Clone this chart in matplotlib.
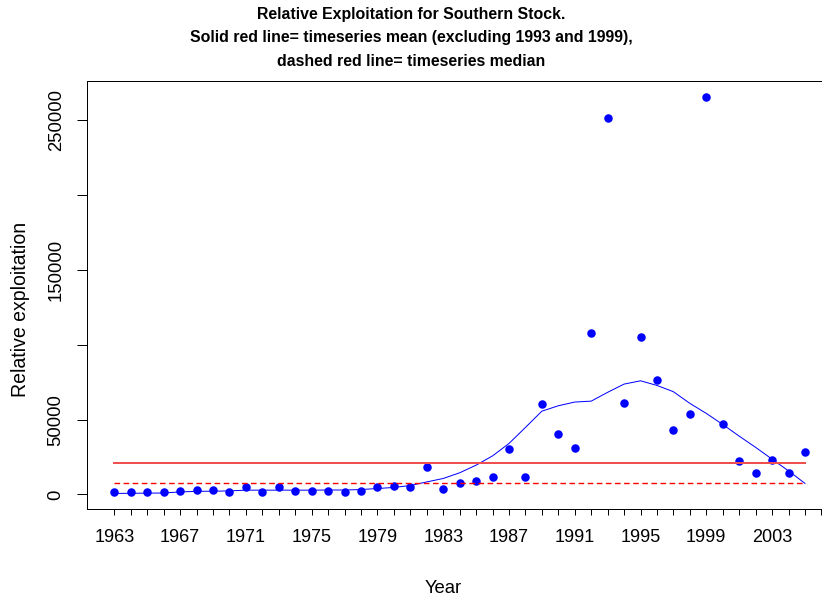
import matplotlib
matplotlib.use("Agg")
import matplotlib.pyplot as plt

plt.rcParams['font.family'] = ['Liberation Sans', 'DejaVu Sans']

years = list(range(1963, 2006))
exploitation = [1340, 1340, 1340, 1340, 2200, 3300, 3300, 1340, 5100, 1340,
                5100, 2200, 2200, 2200, 1340, 2400, 4700, 5800, 4700, 18100,
                4000, 7400, 8900, 11800, 30100, 11800, 60200, 40400, 30800, 107700,
                251600, 61300, 105100, 76500, 43000, 53500, 265700, 47000, 22300, 14500,
                23200, 14500, 28300]
smooth = [700, 800, 900, 1000, 1700, 2100, 2200, 2400, 2900, 2900,
          2900, 2900, 2900, 3000, 3000, 3300, 4000, 4700, 6000, 8400,
          10700, 14500, 19600, 25800, 34100, 44800, 55700, 59300, 61800, 62400,
          68300, 73800, 76000, 72900, 68700, 60900, 54200, 46800, 39000, 31500,
          23600, 15800, 7400]
mean_value = 21100
median_value = 8000

x_ticks = list(range(1963, 2007))
x_labels = [str(y) if (y - 1963) % 4 == 0 and y <= 2003 else '' for y in x_ticks]
y_ticks = [0, 50000, 100000, 150000, 200000, 250000]
y_labels = ['0', '50000', '', '150000', '', '250000']

W, H = 822, 598
DPI = 72
fig = plt.figure(figsize=(W / DPI, H / DPI), dpi=DPI)
left, right, top, bottom = 86.7, 832.6, 81, 509
ax = fig.add_axes([left / W, 1 - bottom / H, (right - left) / W, (bottom - top) / H])

ax.plot(years, exploitation, 'o', color='#0000ff', markersize=8.5, markeredgewidth=0)
ax.plot(years, smooth, '-', color='#0000ff', linewidth=1.0)
ax.plot([years[0], years[-1]], [mean_value, mean_value], '-', color='#ef4f4f', linewidth=2.0)
ax.plot([years[0], years[-1]], [median_value, median_value], color='#ff0000',
        linewidth=1.4, dashes=(4, 2.5))

ax.set_xlim(1961.32, 2006.68)
ax.set_ylim(-9700, 276400)

ax.set_xticks(x_ticks)
ax.set_xticklabels(x_labels)
ax.set_yticks(y_ticks)
ax.set_yticklabels(y_labels, rotation=90, va='center')

ax.tick_params(axis='x', length=6, width=1, pad=14, labelsize=18, colors='black')
ax.tick_params(axis='y', length=10, width=1, pad=12, labelsize=18.5, colors='black')
for s in ax.spines.values():
    s.set_linewidth(1.0)
    s.set_color('black')

title_lines = ["Relative Exploitation for Southern Stock.",
               "Solid red line= timeseries mean (excluding 1993 and 1999),",
               "dashed red line= timeseries median"]
baselines = [19, 42.3, 65.5]
for t, b in zip(title_lines, baselines):
    fig.text(0.5, 1 - b / H, t, ha='center', va='baseline', fontsize=15.9,
             fontweight='bold')

fig.text(443 / W, 1 - 593 / H, "Year", ha='center', va='baseline', fontsize=18.5)
fig.text(21 / W, 1 - 309 / H, "Relative exploitation", ha='center', va='center',
         rotation=90, fontsize=19.5)

fig.savefig("out.png", dpi=DPI)
